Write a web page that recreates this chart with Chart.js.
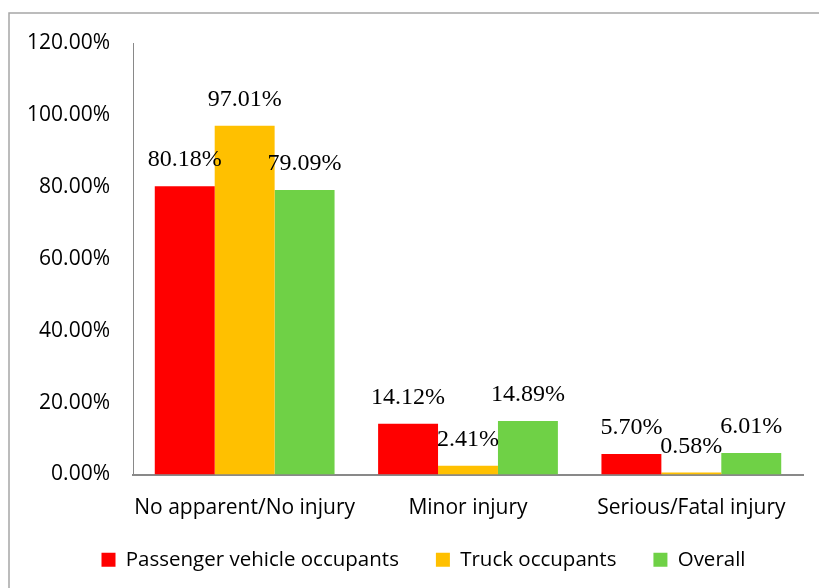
<!DOCTYPE html>
<html>
<head>
<meta charset="utf-8">
<script src="https://cdn.jsdelivr.net/npm/chart.js@4/dist/chart.umd.min.js"></script>
<style>
  body { margin: 0; background: #fff; }
  canvas { display: block; }
</style>
</head>
<body>
<canvas id="injuryChart" width="819" height="588"></canvas>
<script>
// Data
var categories = ['No apparent/No injury', 'Minor injury', 'Serious/Fatal injury'];
var passengerValues = [80.18, 14.12, 5.70];
var truckValues = [97.01, 2.41, 0.58];
var overallValues = [79.09, 14.89, 6.01];
var seriesNames = ['Passenger vehicle occupants', 'Truck occupants', 'Overall'];
var seriesColors = ['#FF0000', '#FFC000', '#6FD146'];

var sansFont = "'Open Sans', sans-serif";
var serifFont = "'Liberation Serif', 'Times New Roman', serif";

// outer frame round the chart
var framePlugin = {
  id: 'frame',
  beforeDraw(chart) {
    var ctx = chart.ctx;
    ctx.save();
    ctx.fillStyle = '#fff';
    ctx.fillRect(0, 0, chart.width, chart.height);
    ctx.strokeStyle = '#a6a6a6';
    ctx.lineWidth = 1.5;
    ctx.strokeRect(9, 13, 900, 700);
    ctx.restore();
  }
};

// nudge the legend row up and right, like the original
var legendNudge = {
  id: 'legendNudge',
  afterLayout(chart) {
    var lg = chart.legend;
    lg.top -= 8;
    lg.bottom -= 8;
    lg.left += 22;
    lg.right += 22;
  }
};

// value labels above each bar
var valueLabels = {
  id: 'valueLabels',
  afterDatasetsDraw(chart) {
    var ctx = chart.ctx;
    ctx.save();
    ctx.font = '24px ' + serifFont;
    ctx.fillStyle = '#000';
    ctx.textAlign = 'center';
    ctx.textBaseline = 'middle';
    chart.data.datasets.forEach((ds, i) => {
      chart.getDatasetMeta(i).data.forEach((bar, j) => {
        ctx.fillText(ds.data[j].toFixed(2) + '%', bar.x, bar.y - 26);
      });
    });
    ctx.restore();
  }
};

new Chart(document.getElementById('injuryChart'), {
  type: 'bar',
  data: {
    labels: categories,
    datasets: [
      { label: seriesNames[0], data: passengerValues, backgroundColor: seriesColors[0] },
      { label: seriesNames[1], data: truckValues, backgroundColor: seriesColors[1] },
      { label: seriesNames[2], data: overallValues, backgroundColor: seriesColors[2] }
    ]
  },
  options: {
    responsive: false,
    animation: false,
    categoryPercentage: 0.805,
    barPercentage: 1.0,
    layout: { padding: { top: 43, right: 16, bottom: 0, left: 0 } },
    plugins: {
      legend: {
        position: 'bottom',
        labels: {
          font: { family: sansFont, size: 20.5 },
          color: '#000',
          boxWidth: 14,
          boxHeight: 14,
          padding: 37
        }
      },
      tooltip: { enabled: false }
    },
    scales: {
      x: {
        grid: { display: false },
        border: { display: true, color: '#898989', width: 2 },
        ticks: {
          font: { family: sansFont, size: 21 },
          color: '#000',
          padding: 13,
          maxRotation: 0,
          minRotation: 0,
          autoSkip: false
        },
        afterFit(scale) {
          scale.height = 46;
          scale.paddingLeft = 0;
          scale.paddingRight = 0;
        }
      },
      y: {
        min: 0,
        max: 120,
        grid: { display: false, drawTicks: false },
        border: { display: true, color: '#898989', width: 1 },
        ticks: {
          stepSize: 20,
          font: { family: sansFont, size: 21 },
          color: '#000',
          padding: 23,
          callback: (v) => v.toFixed(2) + '%'
        },
        afterFit(scale) { scale.width = 133; }
      }
    }
  },
  plugins: [framePlugin, legendNudge, valueLabels]
});
</script>
</body>
</html>
